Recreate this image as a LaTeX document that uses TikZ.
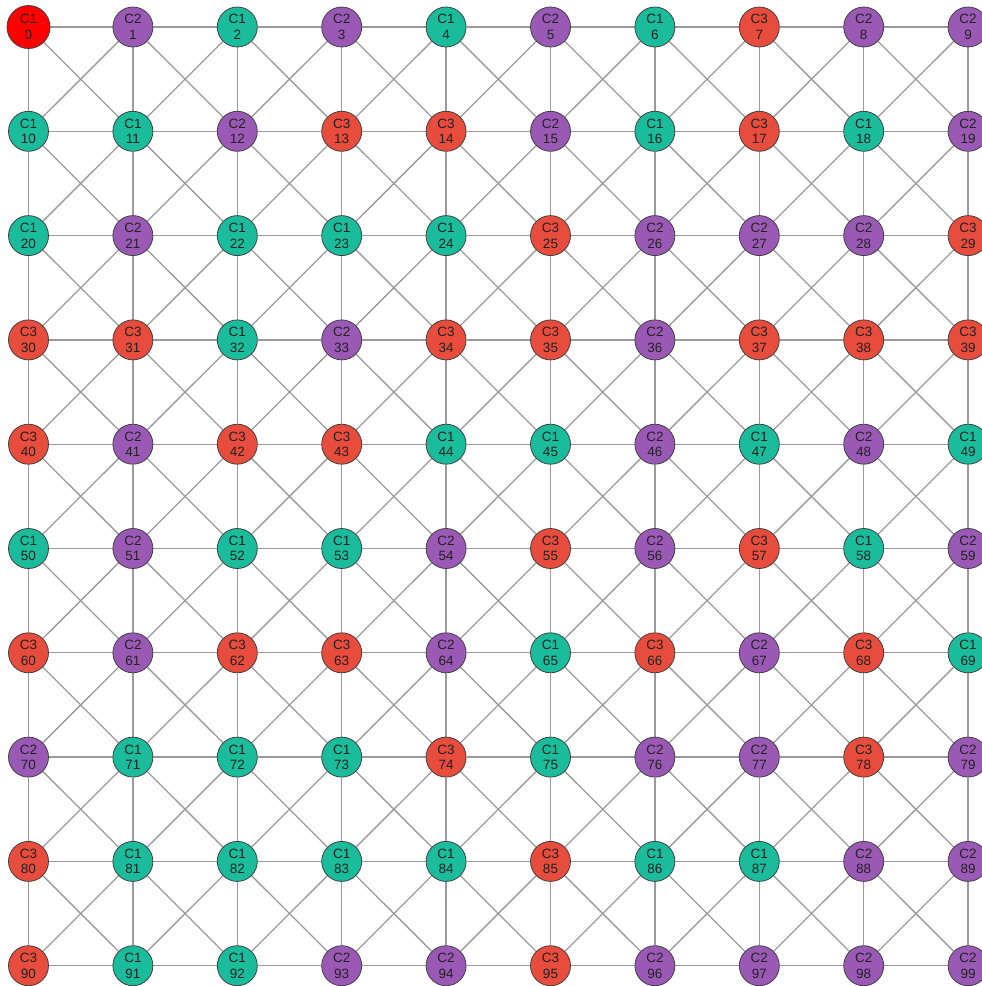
\documentclass[tikz,border=0pt]{standalone}
\usepackage{fontspec}
\setmainfont{Liberation Sans}
\usetikzlibrary{backgrounds}
\definecolor{czero}{HTML}{FF0000}
\definecolor{cone}{HTML}{1ABC9C}
\definecolor{ctwo}{HTML}{9B59B6}
\definecolor{cthree}{HTML}{E74C3C}
\definecolor{edgegray}{HTML}{9A9A9A}
\definecolor{textdark}{HTML}{222222}
\begin{document}
\begin{tikzpicture}[x=1pt,y=-1pt,
  vtx/.style={circle,draw=black!75,line width=0.8pt,minimum size=40pt,inner sep=0pt,
    font=\fontsize{13.5}{15.5}\selectfont,text=textdark,align=center},
  edge/.style={draw=edgegray,line width=1.3pt}]
\useasboundingbox (0,0) rectangle (982,986);
\clip (0,0) rectangle (982,986);
\foreach \cls [count=\i from 0] in {
  0,2,1,2,1,2,1,3,2,2,
  1,1,2,3,3,2,1,3,1,2,
  1,2,1,1,1,3,2,2,2,3,
  3,3,1,2,3,3,2,3,3,3,
  3,2,3,3,1,1,2,1,2,1,
  1,2,1,1,2,3,2,3,1,2,
  3,2,3,3,2,1,3,2,3,1,
  2,1,1,1,3,1,2,2,3,2,
  3,1,1,1,1,3,1,1,2,2,
  3,1,1,2,2,3,2,2,2,2}{
  \pgfmathtruncatemacro\r{int(\i/10)}
  \pgfmathtruncatemacro\c{\i-10*\r}
  \ifcase\cls
    \node[vtx,fill=czero,minimum size=43pt] (n\i) at ({28.5+104.4*\c},{27+104.3*\r}) {C1\\\i};
  \or
    \node[vtx,fill=cone] (n\i) at ({28.5+104.4*\c},{27+104.3*\r}) {C1\\\i};
  \or
    \node[vtx,fill=ctwo] (n\i) at ({28.5+104.4*\c},{27+104.3*\r}) {C2\\\i};
  \or
    \node[vtx,fill=cthree] (n\i) at ({28.5+104.4*\c},{27+104.3*\r}) {C3\\\i};
  \fi
}
\begin{pgfonlayer}{background}
\foreach \r in {0,...,9}{
  \foreach \c in {0,...,9}{
    \pgfmathtruncatemacro\a{10*\r+\c}
    \pgfmathtruncatemacro\rt{\a+1}
    \pgfmathtruncatemacro\dn{\a+10}
    \pgfmathtruncatemacro\dr{\a+11}
    \pgfmathtruncatemacro\dl{\a+9}
    \ifnum\c<9 \draw[edge] (n\a) -- (n\rt); \fi
    \ifnum\r<9 \draw[edge] (n\a) -- (n\dn); \fi
    \ifnum\r<9 \ifnum\c<9 \draw[edge] (n\a) -- (n\dr); \fi\fi
    \ifnum\r<9 \ifnum\c>0 \draw[edge] (n\a) -- (n\dl); \fi\fi
  }
}
\end{pgfonlayer}
\end{tikzpicture}
\end{document}
